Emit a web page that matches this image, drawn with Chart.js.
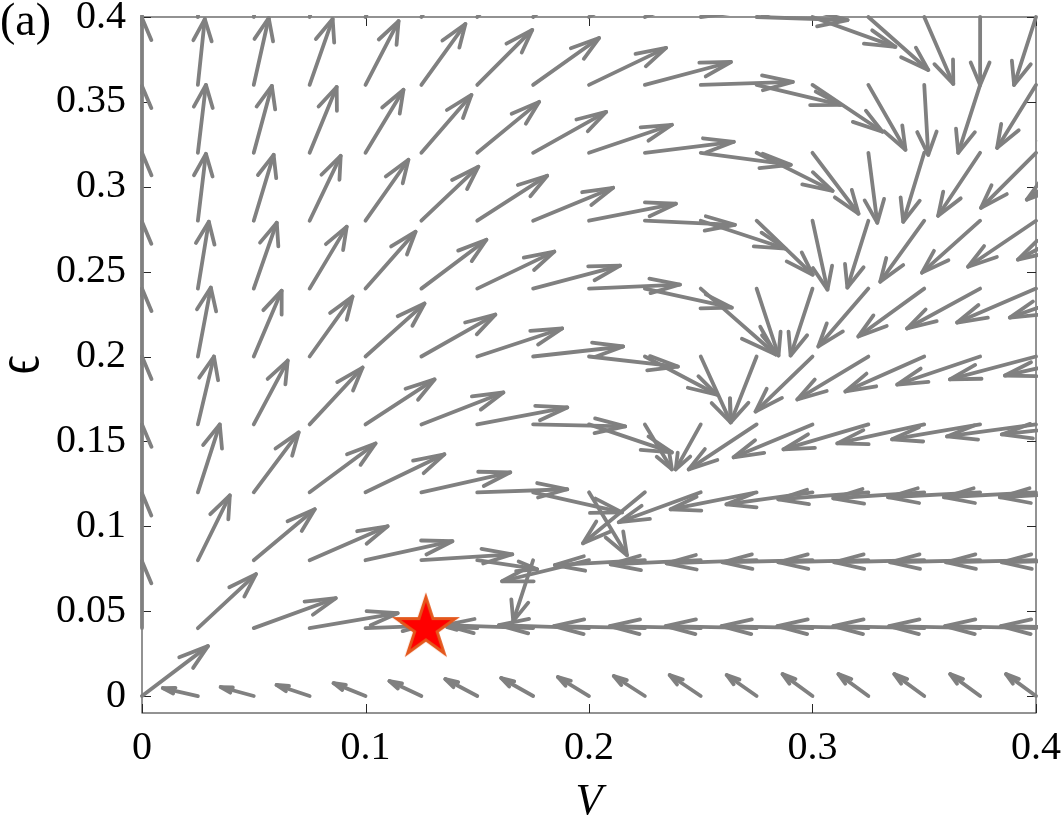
<!DOCTYPE html>
<html><head><meta charset="utf-8">
<script src="https://cdn.jsdelivr.net/npm/chart.js@4"></script>
<style>html,body{margin:0;padding:0;background:#fff;}#wrap{width:1063px;height:819px;}</style>
</head><body><div id="wrap"><canvas id="c" width="1063" height="819"></canvas></div>
<script>
// ---- data (data units) ----
const V_GRID = [0,0.025,0.05,0.075,0.1,0.125,0.15,0.175,0.2,0.225,0.25,0.275,0.3,0.325,0.35,0.375,0.4,0.425];
const EPS_GRID = [0,0.04,0.08,0.12,0.16,0.2,0.24,0.28,0.32,0.36,0.4];
// arrow components, one row per EPS_GRID value, one column per V_GRID value
const U = [
 [0.0295,-0.0157,-0.0148,-0.0148,-0.0143,-0.0143,-0.0143,-0.0143,-0.0139,-0.0139,-0.0139,-0.0134,-0.0134,-0.0134,-0.0134,-0.0134,-0.0134,-0.0134],
 [0,0.0260,0.0367,0.0394,0.0246,0.0022,-0.0134,-0.0394,-0.0403,-0.0407,-0.0407,-0.0407,-0.0407,-0.0407,-0.0407,-0.0407,-0.0407,-0.0407],
 [0,0.0143,0.0273,0.0349,0.0389,0.0407,0.0268,-0.0089,-0.0389,-0.0403,-0.0403,-0.0403,-0.0403,-0.0403,-0.0403,-0.0403,-0.0403,-0.0403],
 [0,0.0098,0.0201,0.0295,0.0353,0.0398,0.0403,0.0398,0.0170,-0.0277,-0.0367,-0.0385,-0.0385,-0.0403,-0.0407,-0.0412,-0.0412,-0.0412],
 [0,0.0072,0.0152,0.0237,0.0309,0.0367,0.0403,0.0412,0.0371,0.0121,-0.0112,-0.0304,-0.0353,-0.0380,-0.0389,-0.0394,-0.0398,-0.0403],
 [0,0.0058,0.0125,0.0192,0.0264,0.0331,0.0380,0.0403,0.0398,0.0322,0.0134,-0.0116,-0.0255,-0.0318,-0.0353,-0.0371,-0.0385,-0.0389],
 [0,0.0049,0.0103,0.0166,0.0224,0.0291,0.0345,0.0389,0.0407,0.0389,0.0336,0.0098,-0.0098,-0.0224,-0.0295,-0.0327,-0.0353,-0.0367],
 [0,0.0036,0.0089,0.0139,0.0192,0.0255,0.0313,0.0358,0.0389,0.0403,0.0380,0.0251,0.0067,-0.0094,-0.0197,-0.0260,-0.0304,-0.0331],
 [0,0.0036,0.0081,0.0121,0.0170,0.0224,0.0277,0.0327,0.0371,0.0398,0.0403,0.0340,0.0206,0.0040,-0.0094,-0.0188,-0.0246,-0.0291],
 [0,0.0031,0.0067,0.0103,0.0148,0.0197,0.0246,0.0295,0.0345,0.0385,0.0412,0.0376,0.0313,0.0166,0.0018,-0.0098,-0.0174,-0.0233],
 [0,0.0027,0.0058,0.0089,0.0130,0.0174,0.0224,0.0268,0.0318,0.0367,0.0403,0.0407,0.0371,0.0268,0.0130,0,-0.0098,-0.0170]
];
const W = [
 [0.0294,0.0047,0.0053,0.0065,0.0076,0.0088,0.0100,0.0106,0.0112,0.0118,0.0124,0.0124,0.0129,0.0129,0.0129,0.0129,0.0129,0.0129],
 [0.0394,0.0318,0.0176,0.0088,0.0012,0,0.0006,0.0018,0.0018,0.0012,0.0012,0.0012,0.0012,0.0012,0.0012,0.0012,0.0012,0.0012],
 [0.0394,0.0382,0.0300,0.0200,0.0112,0.0035,-0.0053,-0.0359,-0.0124,-0.0029,-0.0024,-0.0018,-0.0012,-0.0012,-0.0012,-0.0012,-0.0012,-0.0012],
 [0.0400,0.0400,0.0353,0.0288,0.0224,0.0118,0.0018,-0.0118,-0.0371,-0.0300,-0.0176,-0.0100,-0.0071,-0.0041,-0.0035,-0.0029,-0.0029,-0.0029],
 [0.0400,0.0400,0.0376,0.0335,0.0265,0.0188,0.0100,-0.0012,-0.0165,-0.0265,-0.0265,-0.0265,-0.0194,-0.0147,-0.0112,-0.0088,-0.0071,-0.0059],
 [0.0400,0.0406,0.0388,0.0353,0.0312,0.0247,0.0165,0.0059,-0.0059,-0.0224,-0.0388,-0.0388,-0.0324,-0.0253,-0.0206,-0.0165,-0.0135,-0.0112],
 [0.0394,0.0394,0.0388,0.0365,0.0335,0.0288,0.0218,0.0135,0.0024,-0.0112,-0.0388,-0.0394,-0.0394,-0.0341,-0.0282,-0.0235,-0.0200,-0.0171],
 [0.0400,0.0394,0.0388,0.0382,0.0359,0.0318,0.0265,0.0194,0.0100,-0.0024,-0.0165,-0.0318,-0.0406,-0.0394,-0.0359,-0.0306,-0.0271,-0.0229],
 [0.0394,0.0400,0.0394,0.0388,0.0371,0.0341,0.0300,0.0241,0.0165,0.0065,-0.0071,-0.0224,-0.0359,-0.0412,-0.0406,-0.0371,-0.0324,-0.0276],
 [0.0394,0.0388,0.0394,0.0388,0.0376,0.0359,0.0324,0.0276,0.0218,0.0135,0.0018,-0.0118,-0.0276,-0.0382,-0.0412,-0.0400,-0.0371,-0.0329],
 [0.0394,0.0394,0.0394,0.0394,0.0382,0.0365,0.0341,0.0306,0.0259,0.0188,0.0071,-0.0018,-0.0176,-0.0312,-0.0394,-0.0400,-0.0400,-0.0371]
];
const STAR_V = [0.127];
const STAR_EPS = [0.04];
const X_TICKS = [0,0.1,0.2,0.3,0.4];
const X_TICK_LABELS = ['0','0.1','0.2','0.3','0.4'];
const Y_TICKS = [0,0.05,0.1,0.15,0.2,0.25,0.3,0.35,0.4];
const Y_TICK_LABELS = ['0','0.05','0.1','0.15','0.2','0.25','0.3','0.35','0.4'];
const X_RANGE = [0,0.4];
const Y_RANGE = [-0.01,0.4];
const X_TITLE = 'V', Y_TITLE = '\u03F5', PANEL = '(a)';

// ---- styles ----
const SERIF = "'Liberation Serif','Times New Roman','DejaVu Serif',serif";
const ARROW_COLOR = '#808080', AXIS_COLOR = '#262626';
const HEAD_A = 0.33, HEAD_B = 0.32;

function makeStar(R, fill, stroke, lw){
  const s = Math.ceil(2*R + 2*lw + 6);
  const c = document.createElement('canvas'); c.width = s; c.height = s;
  const g = c.getContext('2d'); const cx = s/2, cy = s/2, r = R*0.382;
  g.beginPath();
  for (let k=0;k<10;k++){
    const ang = -Math.PI/2 + k*Math.PI/5; const rr = k%2===0?R:r;
    const px = cx + rr*Math.cos(ang), py = cy + rr*Math.sin(ang);
    k===0?g.moveTo(px,py):g.lineTo(px,py);
  }
  g.closePath(); g.fillStyle = fill; g.fill();
  g.lineWidth = lw; g.strokeStyle = stroke; g.lineJoin='miter'; g.stroke();
  return c;
}

const quiverPlugin = {
  id:'quiver',
  beforeDatasetsDraw(chart){
    const {ctx, chartArea:a, scales:{x, y}} = chart;
    ctx.save();
    ctx.strokeStyle = AXIS_COLOR; ctx.lineWidth = 1;
    ctx.strokeRect(a.left, a.top, a.right-a.left, a.bottom-a.top);
    const TL = 9;
    ctx.beginPath();
    X_TICKS.forEach(v=>{ const p = Math.round(x.getPixelForValue(v))+0.5;
      ctx.moveTo(p,a.bottom); ctx.lineTo(p,a.bottom-TL); ctx.moveTo(p,a.top); ctx.lineTo(p,a.top+TL); });
    Y_TICKS.forEach(v=>{ const p = Math.round(y.getPixelForValue(v))+0.5;
      ctx.moveTo(a.left,p); ctx.lineTo(a.left+TL,p); ctx.moveTo(a.right,p); ctx.lineTo(a.right-TL,p); });
    ctx.stroke();
    ctx.restore();

    ctx.save();
    ctx.beginPath(); ctx.rect(a.left-2, a.top-2, a.right-a.left+4, a.bottom-a.top+4); ctx.clip();
    ctx.strokeStyle = ARROW_COLOR; ctx.lineWidth = 3.8; ctx.lineCap = 'round'; ctx.lineJoin = 'round';
    const X = v=>x.getPixelForValue(v), Y = v=>y.getPixelForValue(v);
    for (let i=0;i<EPS_GRID.length;i++){
      for (let j=0;j<V_GRID.length;j++){
        const x0 = V_GRID[j], y0 = EPS_GRID[i], u = U[i][j], w = W[i][j];
        if (u===0 && w===0) continue;
        const tx = x0+u, ty = y0+w;
        const w1x = tx - HEAD_A*(u + HEAD_B*w), w1y = ty - HEAD_A*(w - HEAD_B*u);
        const w2x = tx - HEAD_A*(u - HEAD_B*w), w2y = ty - HEAD_A*(w + HEAD_B*u);
        ctx.beginPath(); ctx.moveTo(X(x0),Y(y0)); ctx.lineTo(X(tx),Y(ty)); ctx.stroke();
        ctx.beginPath(); ctx.moveTo(X(w1x),Y(w1y)); ctx.lineTo(X(tx),Y(ty)); ctx.lineTo(X(w2x),Y(w2y)); ctx.stroke();
      }
    }
    ctx.restore();
  },
  afterDraw(chart){
    const {ctx, chartArea:a} = chart;
    ctx.save();
    ctx.fillStyle = '#000';
    ctx.font = 'italic 44px ' + SERIF; ctx.textAlign='center'; ctx.textBaseline='alphabetic';
    ctx.fillText(X_TITLE, (a.left+a.right)/2, 814);
    ctx.save(); ctx.translate(38, (a.top+a.bottom)/2); ctx.rotate(-Math.PI/2); ctx.scale(1, 1.35);
    ctx.font = '46px ' + SERIF; ctx.textBaseline='alphabetic'; ctx.fillText(Y_TITLE, 0, 0); ctx.restore();
    ctx.font = '46px ' + SERIF; ctx.textAlign='left'; ctx.fillText(PANEL, 0, 35);
    ctx.restore();
  }
};

new Chart(document.getElementById('c'), {
  type:'scatter',
  data:{ datasets:[{
    data: STAR_V.map((v,k)=>({x:v, y:STAR_EPS[k]})),
    pointStyle: makeStar(31, '#ff0000', '#e4571c', 3),
    pointRadius: 1, pointHoverRadius: 1, borderWidth: 0, clip:false
  }]},
  plugins:[quiverPlugin],
  options:{
    responsive:false, animation:false, devicePixelRatio:1,
    layout:{ autoPadding:false, padding:{left:0, right:27, top:17, bottom:0} },
    plugins:{ legend:{display:false}, tooltip:{enabled:false} },
    scales:{
      x:{ type:'linear', min:X_RANGE[0], max:X_RANGE[1],
        afterBuildTicks:s=>{ s.ticks = X_TICKS.map(v=>({value:v})); },
        afterFit:s=>{ s.height = 106; s.paddingLeft = 0; s.paddingRight = 0; s.paddingTop = 0; s.paddingBottom = 0; },
        grid:{display:false, drawTicks:false}, border:{display:false},
        ticks:{ padding:15, maxRotation:0, autoSkip:false, color:'#000',
          font:{family:SERIF, size:40, lineHeight:1},
          callback:(v)=>{ const k = X_TICKS.findIndex(t=>Math.abs(t-v)<1e-9); return k>=0?X_TICK_LABELS[k]:''; } } },
      y:{ type:'linear', min:Y_RANGE[0], max:Y_RANGE[1],
        afterBuildTicks:s=>{ s.ticks = Y_TICKS.map(v=>({value:v})); },
        afterFit:s=>{ s.width = 142; s.paddingTop = 0; s.paddingBottom = 0; s.paddingLeft = 0; s.paddingRight = 0; },
        grid:{display:false, drawTicks:false}, border:{display:false},
        ticks:{ padding:16, autoSkip:false, color:'#000',
          font:{family:SERIF, size:40, lineHeight:1},
          callback:(v)=>{ const k = Y_TICKS.findIndex(t=>Math.abs(t-v)<1e-9); return k>=0?Y_TICK_LABELS[k]:''; } } }
    }
  }
});
</script></body></html>
